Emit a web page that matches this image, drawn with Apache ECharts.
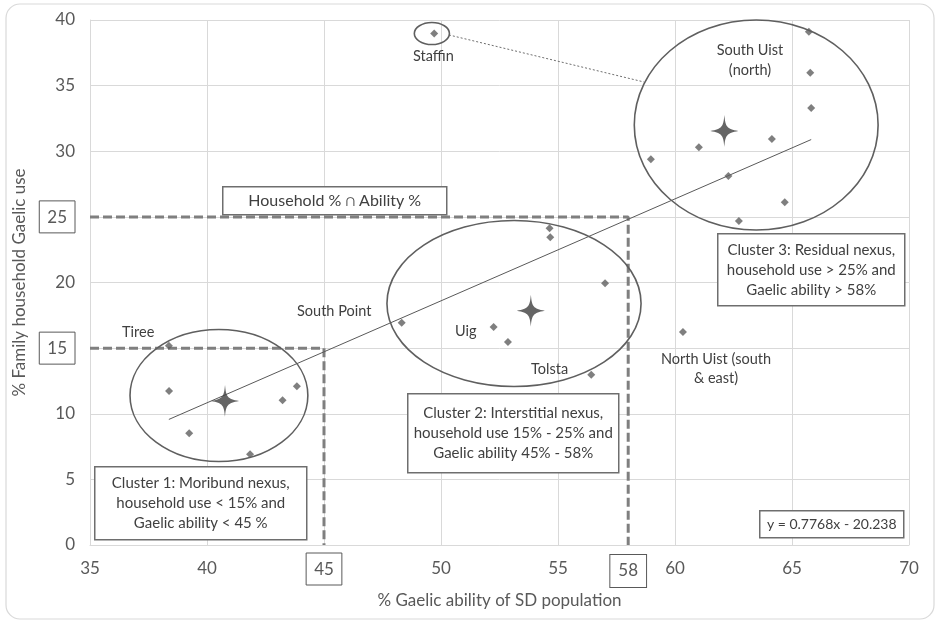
<!DOCTYPE html>
<html>
<head>
<meta charset="utf-8">
<script src="https://cdn.jsdelivr.net/npm/echarts@6/dist/echarts.min.js"></script>
<style>
  html, body { margin: 0; padding: 0; background: #ffffff; }
  #chart { width: 938px; height: 626px; }
</style>
</head>
<body>
<div id="chart"></div>
<script>
// % Gaelic ability (x) and % family household Gaelic use (y) per study district
const abilityPct = [
  38.37, 38.38, 39.24, 41.84, 43.23, 43.84,
  48.32, 52.25, 52.86, 54.64, 54.67, 57.01, 56.42,
  60.34, 49.71,
  58.97, 61.02, 62.28, 62.73, 64.14, 64.69, 65.72, 65.78, 65.82
];
const householdPct = [
  15.18, 11.73, 8.51, 6.91, 11.02, 12.09,
  16.94, 16.61, 15.47, 24.13, 23.44, 19.94, 12.98,
  16.23, 38.98,
  29.39, 30.30, 28.11, 24.69, 30.93, 26.11, 39.11, 35.99, 33.30
];

// cluster centroids
const centroidAbility = [40.77, 53.84, 62.11];
const centroidHousehold = [10.97, 17.85, 31.54];

// linear trend of household use on ability
const trendSlope = 0.7768;
const trendIntercept = -20.238;

// threshold values
const householdThresholds = [15, 25];
const abilityThresholds = [45, 58];

// axis ticks
const xTicks = { min: 35, max: 70, step: 5 };
const yTicks = { min: 0, max: 40, step: 5 };

const FONT = 'Lato, "Open Sans", sans-serif';
const GREY = '#595959';

const points = abilityPct.map((x, i) => [x, householdPct[i]]);
const centroids = centroidAbility.map((x, i) => [x, centroidHousehold[i]]);
const xMinData = Math.min(...abilityPct);
const xMaxData = Math.max(...abilityPct);
const trendData = [xMinData, xMaxData].map(x => [x, trendSlope * x + trendIntercept]);

// cluster outlines: centre x, centre y, radius x, radius y (axis units)
const outlines = [
  [40.51, 11.39, 3.80, 5.03],
  [53.12, 18.40, 5.43, 6.32],
  [63.47, 32.00, 5.21, 8.00],
  [49.61, 38.97, 0.75, 0.84]
];

const star = 'path://M0,-15 C1,-4 2,-2 13,0 C2,2 1,4 0,15 C-1,4 -2,2 -13,0 C-2,-2 -1,-4 0,-15 Z';

const boxed = (v, list) => list.indexOf(v) >= 0 ? '{box|' + v + '}' : String(v);
const boxRich = {
  box: {
    borderColor: GREY, borderWidth: 1, padding: [8, 8, 7, 8],
    fontSize: 17, color: GREY, fontFamily: FONT
  }
};

function textBox(left, top, width, height, lines, fontSize, lineHeight) {
  return {
    type: 'group', left: left, top: top,
    children: [
      { type: 'rect', shape: { x: 0, y: 0, width: width, height: height },
        style: { fill: '#ffffff', stroke: '#6e6e6e', lineWidth: 1.5 }, z: 10 },
      { type: 'text', x: width / 2, y: height / 2, z: 11,
        style: { text: lines.join('\n'), align: 'center', verticalAlign: 'middle',
                 font: fontSize + 'px ' + FONT, fill: '#404040', lineHeight: lineHeight } }
    ]
  };
}

function label(x, y, text, align) {
  return { type: 'text', left: x, top: y, z: 12,
    style: { text: text, font: '14.5px ' + FONT, fill: '#404040',
             align: align || 'center', lineHeight: 19 } };
}

const chart = echarts.init(document.getElementById('chart'), null, { renderer: 'canvas' });

chart.setOption({
  backgroundColor: '#ffffff',
  animation: false,
  grid: { left: 90, right: 29, top: 20, bottom: 81, containLabel: false },
  xAxis: {
    type: 'value', min: xTicks.min, max: xTicks.max, interval: xTicks.step,
    name: '% Gaelic ability of SD population', nameLocation: 'middle', nameGap: 47,
    nameTextStyle: { fontSize: 17, color: GREY, fontFamily: FONT },
    axisLine: { show: true, lineStyle: { color: '#d9d9d9' } },
    axisTick: { show: false },
    axisLabel: { margin: 24, fontSize: 17, color: GREY, fontFamily: FONT, verticalAlign: 'middle',
                 formatter: v => boxed(v, abilityThresholds), rich: boxRich },
    splitLine: { show: true, lineStyle: { color: '#d9d9d9', width: 1 } }
  },
  yAxis: {
    type: 'value', min: yTicks.min, max: yTicks.max, interval: yTicks.step,
    name: '% Family household Gaelic use', nameLocation: 'middle', nameGap: 57,
    nameTextStyle: { fontSize: 17, color: GREY, fontFamily: FONT },
    axisLine: { show: true, lineStyle: { color: '#d9d9d9' } },
    axisTick: { show: false },
    axisLabel: { margin: 15, fontSize: 17, color: GREY, fontFamily: FONT,
                 formatter: v => boxed(v, householdThresholds), rich: boxRich },
    splitLine: { show: true, lineStyle: { color: '#d9d9d9', width: 1 } }
  },
  series: [
    {
      name: 'upper threshold', type: 'line', symbol: 'none', z: 3,
      data: [[xTicks.min, householdThresholds[1]], [abilityThresholds[1], householdThresholds[1]], [abilityThresholds[1], yTicks.min]],
      lineStyle: { color: '#7f7f7f', width: 3, type: [9, 4] }
    },
    {
      name: 'lower threshold', type: 'line', symbol: 'none', z: 3,
      data: [[xTicks.min, householdThresholds[0]], [abilityThresholds[0], householdThresholds[0]], [abilityThresholds[0], yTicks.min]],
      lineStyle: { color: '#7f7f7f', width: 3, type: [9, 4] }
    },
    {
      name: 'trend', type: 'line', symbol: 'none', z: 4,
      data: trendData,
      lineStyle: { color: GREY, width: 1 }
    },
    {
      name: 'Staffin link', type: 'line', symbol: 'none', z: 4,
      data: [[50.34, 38.86], [58.67, 35.28]],
      lineStyle: { color: '#6e6e6e', width: 1, type: [2, 2] }
    },
    {
      name: 'clusters', type: 'custom', z: 5,
      data: outlines,
      renderItem: (params, api) => {
        const c = api.coord([api.value(0), api.value(1)]);
        const s = api.size([api.value(2), api.value(3)]);
        return { type: 'ellipse',
          shape: { cx: c[0], cy: c[1], rx: s[0], ry: s[1] },
          style: { fill: 'none', stroke: '#5f5f5f', lineWidth: 1.6 } };
      },
      clip: false
    },
    {
      name: 'districts', type: 'scatter', symbol: 'diamond', symbolSize: 8, z: 6,
      data: points,
      itemStyle: { color: '#5f5f5f' }
    },
    {
      name: 'centroids', type: 'scatter', symbol: star, symbolSize: [28, 32], z: 7,
      data: centroids,
      itemStyle: { color: '#3f3f3f' }
    }
  ],
  graphic: [
    { type: 'rect', shape: { x: 6, y: 4, width: 928, height: 615, r: 14 }, z: -10,
      style: { fill: 'none', stroke: '#d9d9d9', lineWidth: 1.2 } },
    textBox(222, 186, 224, 28, ['Household % \u2229 Ability %'], 16, 20),
    textBox(94, 466, 212, 73, ['Cluster 1: Moribund nexus,', 'household use < 15% and', 'Gaelic ability < 45 %'], 15, 20),
    textBox(407, 393, 211, 79, ['Cluster 2: Interstitial nexus,', 'household use 15% - 25% and', 'Gaelic ability 45% - 58%'], 15, 20),
    textBox(717, 233, 187, 72, ['Cluster 3: Residual nexus,', 'household use > 25% and', 'Gaelic ability > 58%'], 15, 20),
    textBox(759, 510, 144, 27, ['y = 0.7768x - 20.238'], 14, 18),
    label(122, 323, 'Tiree'),
    label(297, 302, 'South Point'),
    label(455, 322, 'Uig'),
    label(531, 360, 'Tolsta'),
    label(413, 47, 'Staffin'),
    { type: 'text', x: 750, y: 40, z: 12,
      style: { text: 'South Uist\n(north)', font: '14.5px ' + FONT, fill: '#404040', align: 'center', lineHeight: 20 } },
    { type: 'text', x: 716, y: 350, z: 12,
      style: { text: 'North Uist (south\n& east)', font: '14.5px ' + FONT, fill: '#404040', align: 'center', lineHeight: 19 } }
  ]
});

// boxed label for the upper ability threshold, placed on the x axis scale
const threshPx = chart.convertToPixel({ xAxisIndex: 0, yAxisIndex: 0 }, [abilityThresholds[1], yTicks.min]);
chart.setOption({
  graphic: [{
    id: 'ability-threshold-label', type: 'text', x: threshPx[0], y: threshPx[1] + 26, z: 12,
    style: {
      text: String(abilityThresholds[1]), font: '17px ' + FONT, fill: GREY,
      align: 'center', verticalAlign: 'middle',
      borderColor: GREY, borderWidth: 1, padding: [8, 8, 7, 8], backgroundColor: '#ffffff'
    }
  }]
});
</script>
</body>
</html>
